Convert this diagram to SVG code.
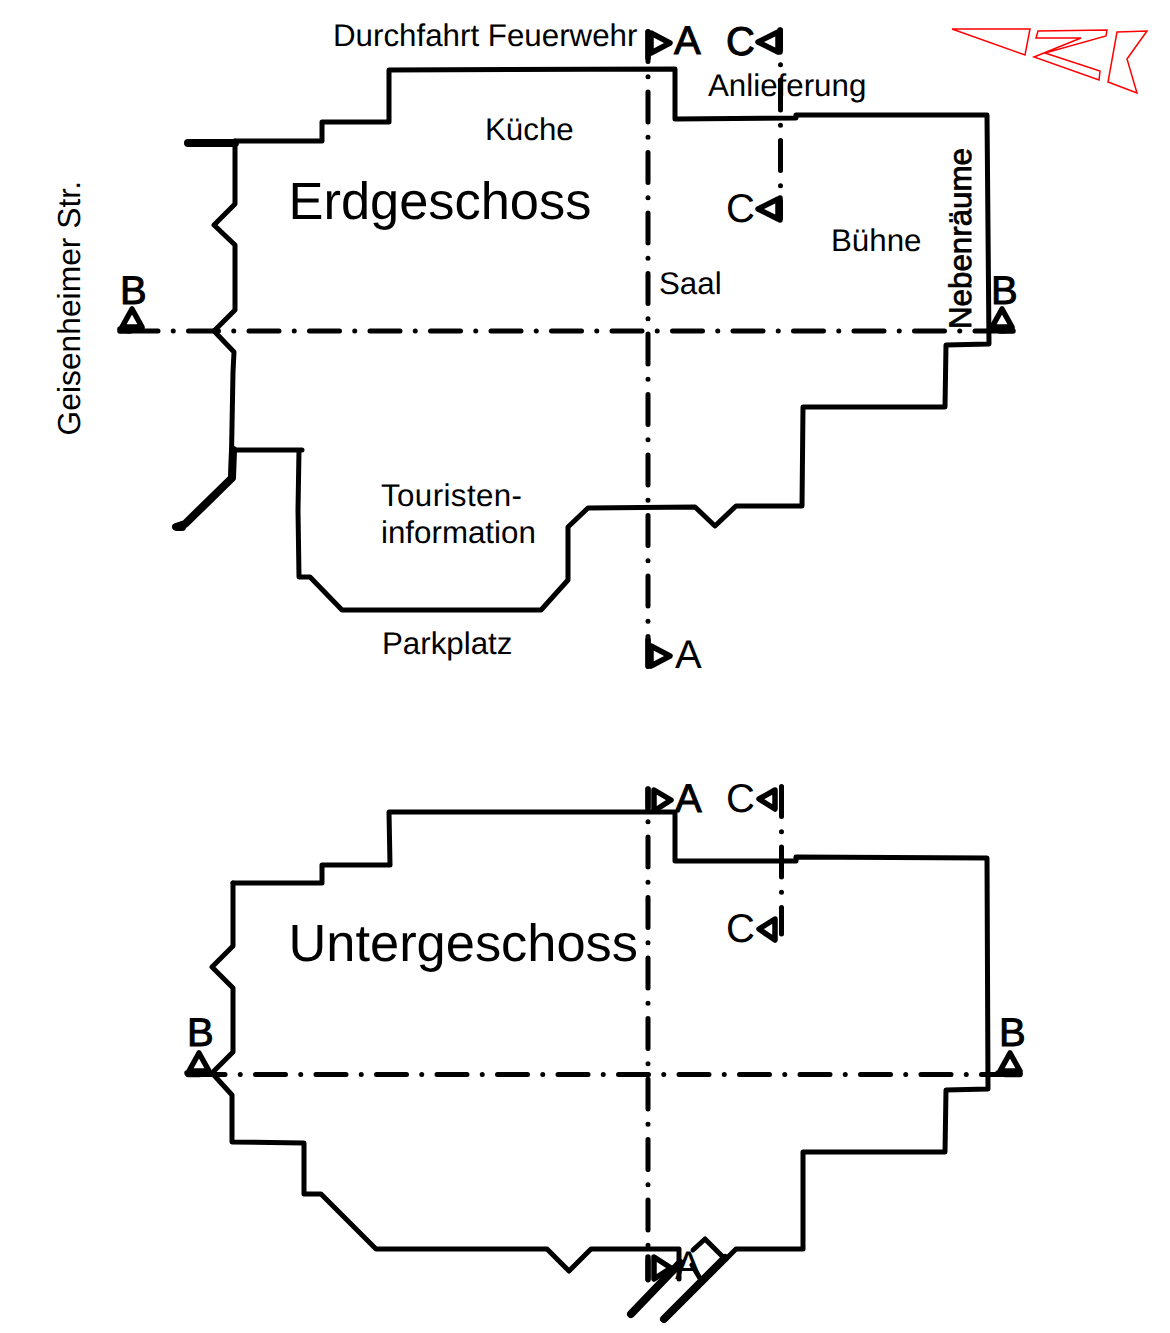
<svg xmlns="http://www.w3.org/2000/svg" width="1170" height="1333" viewBox="0 0 1170 1333">
<style>
text{font-family:"Liberation Sans",Arial,sans-serif;fill:#000;text-rendering:geometricPrecision}
.w{fill:none;stroke:#000;stroke-width:5;stroke-linejoin:round;stroke-linecap:round}
.t{fill:none;stroke:#000;stroke-width:8;stroke-linejoin:round;stroke-linecap:round}
.d{fill:none;stroke:#000;stroke-width:5;stroke-linecap:round;stroke-dasharray:30 15.25 0 15.25}
.m{fill:none;stroke:#000;stroke-width:5.500;stroke-linejoin:round;stroke-linecap:round}
.r{fill:none;stroke:#f00;stroke-width:1.5}
.l{font-size:31.300px}
.h{font-size:52.400px}
.s{font-size:40px}
.b{font-size:40px;stroke:#000;stroke-width:1}
</style>
<g id="connectors">
<path class="d" d="M648 31.500V667"/>
<path class="d" d="M780.500 30V218" stroke-dashoffset="10.5"/>
<path class="d" d="M128 331H1005"/>
<path class="m" d="M120 331H130M1000 331H1013"/>
<path class="d" d="M648 789V1280" stroke-dashoffset="12.5"/>
<path class="d" d="M781.500 786.500V934"/>
<path class="d" d="M195 1074.500H1012"/>
<path class="m" d="M188 1074.500H200M1005 1074.500H1020"/>
</g>
<g id="floor-eg">
<path class="w" d="M235 141H322V122H389V70L675 69V119L796 118V115H987L989 344 946 345 945 407H803L802 506H736L715 526 695 507 588 508 568 527V580L541 610H342L310 577H299L298 510 299 450H302 232"/>
<path class="w" d="M235 141V204L214 225 235 245V310L214 331 234 352 233 372 231 480"/>
<path class="t" d="M188 143H235"/>
<path class="t" d="M233 450 232 478 185 524 176 527H182"/>
</g>
<g id="floor-ug">
<path class="w" d="M233 883H322V865H390L389 812H675V861H796V857L987 858 988 1089 946 1090 945 1152H803V1249H736L725 1260"/>
<path class="w" d="M233 883V946L212 967 233 988V1052L212 1073 232 1095V1142L304 1143V1194H321L376 1249H547L569 1271 591 1249H679V1279"/>
<path class="w" d="M693 1250 705 1239 725 1259"/>
<path class="w" d="M692 1265 701 1280"/>
<path class="t" d="M631 1314 680 1263"/>
<path class="t" d="M664 1319 725 1258"/>
</g>
<g id="markers">
<path class="m" d="M651 33 670 43 651 53ZM648 32V58"/>
<path class="m" d="M651 646 670 656 651 666ZM648 640V666"/>
<path class="m" d="M778 32 758 42 778 52ZM780 30V52"/>
<path class="m" d="M778 199 758 209 778 219ZM780 198V220"/>
<path class="m" d="M122 327 132 309 142 327ZM120 329H142"/>
<path class="m" d="M992 327 1002 309 1012 327ZM990 329H1012"/>
<path class="m" d="M654 790 671 800 654 811ZM648 789V811"/>
<path class="m" d="M775 790 759 799 775 809Z"/>
<path class="m" d="M775 919 759 929 775 940Z"/>
<path class="m" d="M189 1071 199 1053 209 1071ZM187 1073H209"/>
<path class="m" d="M1000 1071 1010 1053 1020 1071ZM998 1073H1020"/>
<path class="m" d="M654 1257 671 1268 654 1279ZM648 1257V1279"/>
</g>
<g id="labels">
<text class="l" x="333" y="46">Durchfahrt Feuerwehr</text>
<text class="l" x="708" y="96">Anlieferung</text>
<text class="l" x="485" y="140">Küche</text>
<text class="h" x="288.500" y="219">Erdgeschoss</text>
<text class="l" x="831" y="251">Bühne</text>
<text class="l" x="659" y="294">Saal</text>
<text class="l" x="381" y="506" textLength="141">Touristen-</text>
<text class="l" x="381" y="543">information</text>
<text class="l" x="382" y="654">Parkplatz</text>
<text class="l" style="font-size:31.800px" transform="translate(80 435.500) rotate(-90)">Geisenheimer Str.</text>
<text class="l" transform="translate(971 329) rotate(-90)" stroke="#000" stroke-width=".8">Nebenräume</text>
<text class="h" x="288.500" y="961">Untergeschoss</text>
<text class="b" x="674" y="54">A</text>
<text class="b" x="726" y="55">C</text>
<text class="s" x="675" y="668">A</text>
<text class="s" x="726" y="222">C</text>
<text class="b" x="120" y="304">B</text>
<text class="b" x="991" y="304">B</text>
<text class="b" x="675" y="812">A</text>
<text class="s" x="726" y="812">C</text>
<text class="s" x="726" y="942">C</text>
<text class="b" x="187" y="1046">B</text>
<text class="b" x="999" y="1046">B</text>
<text class="s" x="675" y="1279">A</text>
</g>
<g id="logo">
<path class="r" d="M952 29H1030L1025 55Z"/>
<path class="r" d="M1038 31 1107 30 1106 36 1045 53 1100 71 1099 80 1034 57 1081 38 1036 38Z"/>
<path class="r" d="M1117 32 1147 31 1127 59 1137 93 1108 82Z"/>
</g>
</svg>
